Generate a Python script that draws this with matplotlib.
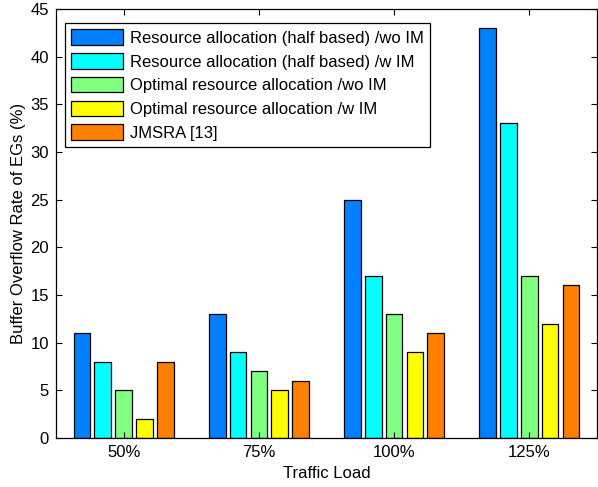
import numpy as np
import matplotlib.pyplot as plt

plt.rcParams['font.family'] = ['Liberation Sans', 'DejaVu Sans']

loads = ['50%', '75%', '100%', '125%']
half_wo_im = [11, 13, 25, 43]
half_w_im = [8, 9, 17, 33]
opt_wo_im = [5, 7, 13, 17]
opt_w_im = [2, 5, 9, 12]
jmsra = [8, 6, 11, 16]

series = [half_wo_im, half_w_im, opt_wo_im, opt_w_im, jmsra]
labels = ['Resource allocation (half based) /wo IM',
          'Resource allocation (half based) /w IM',
          'Optimal resource allocation /wo IM',
          'Optimal resource allocation /w IM',
          'JMSRA [13]']
colors = ['#0080ff', '#00ffff', '#80ff80', '#ffff00', '#ff8000']


def main():
    fig = plt.figure(figsize=(5.98, 4.87), dpi=100)
    ax = fig.add_axes([0.0936, 0.1006, 0.9046, 0.8809])

    x = np.arange(1, len(loads) + 1)
    n = len(series)
    group_w = n / (n + 1.5)
    step = group_w / n
    for i, (vals, lab, c) in enumerate(zip(series, labels, colors)):
        off = (i - (n - 1) / 2) * step
        ax.bar(x + off, vals, width=step * 0.8, color=c, edgecolor='black',
               linewidth=0.9, label=lab)

    ax.set_xlim(0.5, 4.5)
    ax.set_ylim(0, 45)
    ax.set_xticks(x)
    ax.set_xticklabels(loads)
    ax.set_yticks(np.arange(0, 46, 5))
    ax.tick_params(direction='in', top=True, right=True, labelsize=12,
                   length=4, width=0.8, pad=5)
    for s in ax.spines.values():
        s.set_linewidth(0.9)
    ax.set_xlabel('Traffic Load', fontsize=12, labelpad=4)
    ax.set_ylabel('Buffer Overflow Rate of EGs (%)', fontsize=12, labelpad=3)

    leg = ax.legend(loc='upper left', bbox_to_anchor=(0.016, 0.968),
                    fontsize=12, handlelength=3.1, handleheight=1.05,
                    labelspacing=0.44, handletextpad=0.4, borderpad=0.4,
                    borderaxespad=0, fancybox=False, edgecolor='black',
                    framealpha=1)
    leg.get_frame().set_linewidth(0.9)

    fig.savefig('out.png', dpi=100)


if __name__ == '__main__':
    main()
